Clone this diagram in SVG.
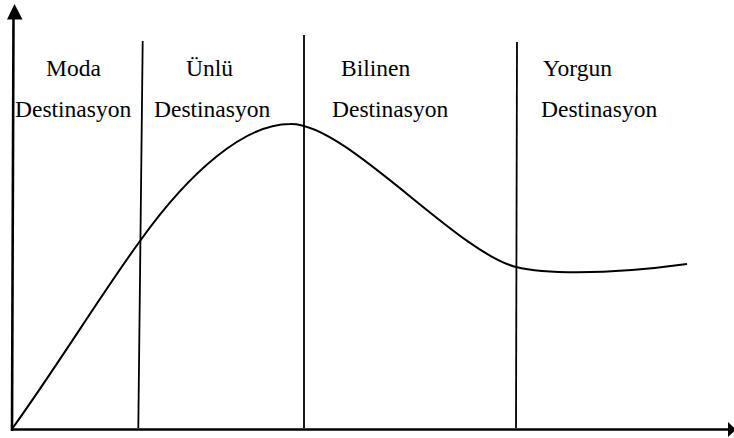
<svg xmlns="http://www.w3.org/2000/svg" width="734" height="438" viewBox="0 0 734 438">
<style>
.ax{stroke:#000;stroke-width:2.6;fill:none}
.div{stroke:#000;stroke-width:1.8;fill:none}
.curve{stroke:#000;stroke-width:2;fill:none}
text{font-family:'Liberation Serif','Times New Roman',Times,serif;font-size:23.5px;fill:#000}
</style>
<rect width="734" height="438" fill="#fff"/>
<g id="connectors">
<line class="ax" x1="12" y1="431" x2="13.5" y2="16"/>
<polygon points="14.5,4 7,19.5 22.5,19.5" fill="#000"/>
<line class="ax" x1="11" y1="429.5" x2="730" y2="429.5"/>
<polygon points="736,429.5 728,422 728,437" fill="#000"/>
<line class="div" x1="142.7" y1="41" x2="138.3" y2="428"/>
<line class="div" x1="304" y1="35" x2="304" y2="428"/>
<line class="div" x1="517" y1="42" x2="516" y2="428"/>
<path class="curve" d="M12,429 C60,362 100,296 140,241 C190,171 245,124 290,124 C345,122 456,252 516,267 C540,273 600,276 687,264"/>
</g>
<g id="moda" font-family="Liberation Serif, serif"><text x="46" y="76">Moda</text><text x="15" y="117">Destinasyon</text></g>
<g id="unlu" font-family="Liberation Serif, serif"><text x="186" y="76">Ünlü</text><text x="154" y="117">Destinasyon</text></g>
<g id="bilinen" font-family="Liberation Serif, serif"><text x="341" y="76">Bilinen</text><text x="332" y="117">Destinasyon</text></g>
<g id="yorgun" font-family="Liberation Serif, serif"><text x="543" y="76">Yorgun</text><text x="541" y="117">Destinasyon</text></g>
</svg>
